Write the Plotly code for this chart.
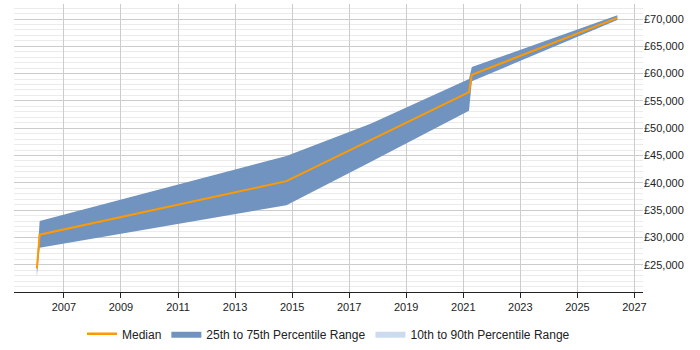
import plotly.graph_objects as go

dates = [2006.05, 2006.15, 2014.8, 2017.75, 2021.2, 2021.3, 2026.4]
median = [24300, 30500, 40300, 47800, 56600, 59800, 70200]
q1 = [22800, 28100, 35900, 43800, 53200, 58600, 69800]
q3 = [25000, 33000, 44900, 50800, 59000, 61200, 70700]

xticks = [2007, 2009, 2011, 2013, 2015, 2017, 2019, 2021, 2023, 2025, 2027]
yticks = list(range(25000, 70001, 5000))
ylabels = [f"£{v:,}" for v in yticks]

fig = go.Figure()
fig.add_trace(go.Scatter(x=[None], y=[None], mode="lines", line=dict(color="#ff9900", width=2.5),
                         name="Median", showlegend=True))
fig.add_trace(go.Scatter(x=dates, y=q1, mode="lines", line=dict(width=0, color="rgba(0,0,0,0)"),
                         showlegend=False, hoverinfo="skip"))
fig.add_trace(go.Scatter(x=dates, y=q3, mode="lines", line=dict(width=0, color="rgba(0,0,0,0)"),
                         fill="tonexty", fillcolor="#7094bf",
                         name="25th to 75th Percentile Range"))
fig.add_trace(go.Scatter(x=[None], y=[None], mode="lines", line=dict(width=0),
                         fill="toself", fillcolor="#ccdcee",
                         name="10th to 90th Percentile Range"))
fig.add_trace(go.Scatter(x=dates, y=median, mode="lines", line=dict(color="#ff9900", width=2),
                         name="Median", showlegend=False))

fig.update_layout(
    width=700, height=350,
    margin=dict(l=14, r=57, t=4, b=58, autoexpand=False),
    plot_bgcolor="white", paper_bgcolor="white",
    font=dict(family="Liberation Sans, Arial, sans-serif", size=11, color="#222"),
    legend=dict(orientation="h", x=0.5, xanchor="center", y=-0.095, yanchor="top",
                font=dict(size=12), traceorder="normal"),
    xaxis=dict(range=[2005.25, 2027.3], tickmode="array", tickvals=xticks,
               ticktext=[str(t) for t in xticks],
               showgrid=True, gridcolor="#cccccc", gridwidth=1,
               showline=True, linecolor="#222", linewidth=1,
               ticks="outside", ticklen=5, tickcolor="#222", zeroline=False),
    yaxis=dict(range=[20000, 72750], side="right", tickmode="array", tickvals=yticks,
               ticktext=ylabels, showgrid=True, gridcolor="#cccccc", gridwidth=1,
               minor=dict(dtick=1000, tick0=0, showgrid=True, gridcolor="#ebebeb", gridwidth=1),
               zeroline=False, ticks="", showline=False),
)

fig.write_html("out.html")
